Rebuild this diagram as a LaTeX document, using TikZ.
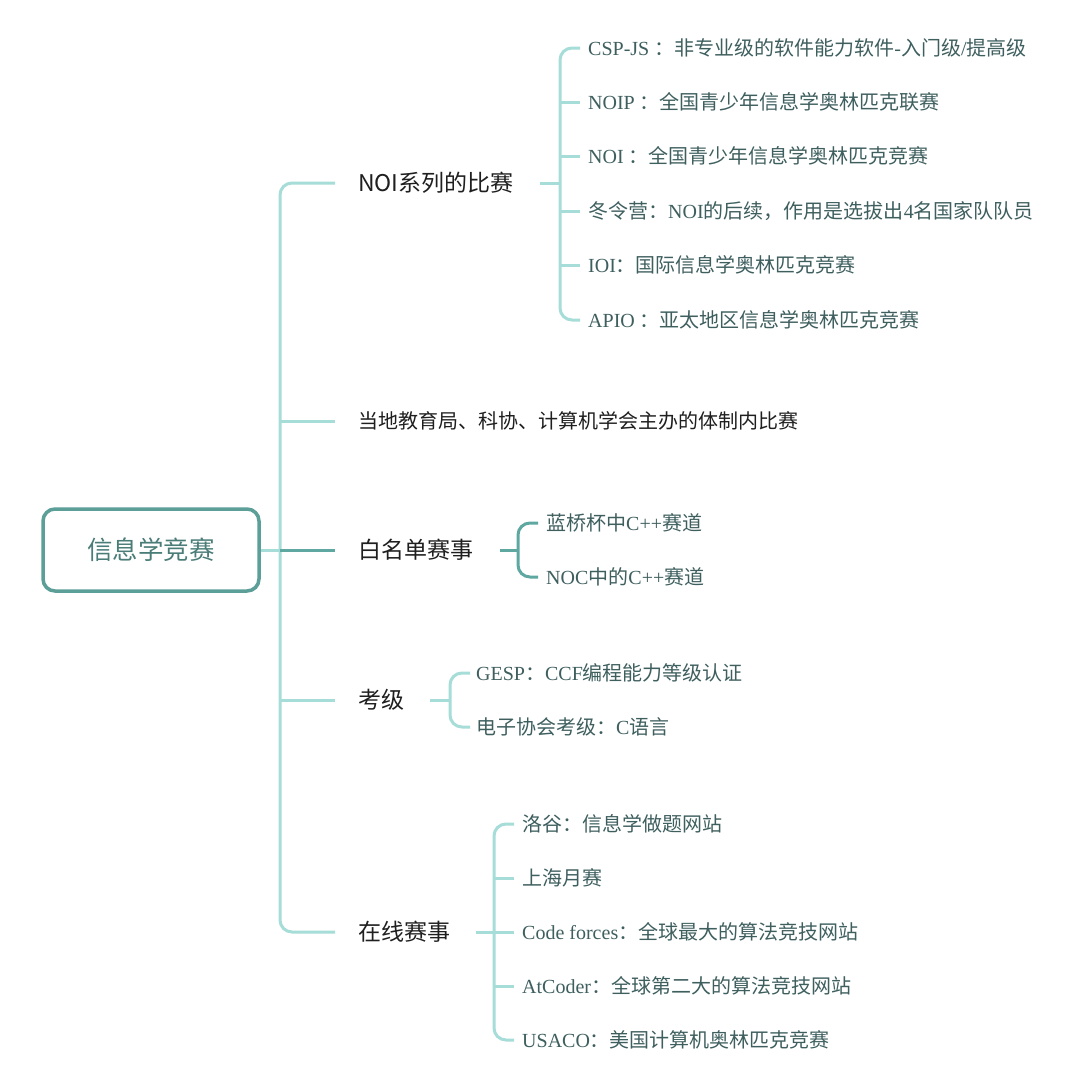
\documentclass[tikz,border=0pt]{standalone}
\usepackage{fontspec}
\setmainfont{Noto Sans CJK SC}
\newfontfamily\latserif{Liberation Serif}
\newcommand{\lt}[1]{{\latserif #1}}
\definecolor{lightline}{HTML}{A6DDD8}
\definecolor{darkline}{HTML}{5FA8A2}
\definecolor{rootbd}{HTML}{5C9E98}
\definecolor{leaftxt}{HTML}{3F5F5F}
\definecolor{rootxt}{HTML}{4A7C78}
\tikzset{
  lline/.style={draw=lightline,line width=3pt,rounded corners=12pt},
  dline/.style={draw=darkline,line width=3pt,rounded corners=12pt},
  branch/.style={anchor=west,inner sep=0pt,font=\fontsize{23}{26}\selectfont,text=black!88},
  leaf/.style={anchor=west,inner sep=0pt,font=\fontsize{20}{23}\selectfont,text=leaftxt},
}
\begin{document}
\begin{tikzpicture}[x=1pt,y=-1pt]
\useasboundingbox (0,0) rectangle (1080,1082);
\fill[white] (0,0) rectangle (1080,1082);
% trunk
\coordinate (t1) at (280,183);
\coordinate (t5) at (280,932);
\draw[lline] (335,183) -- (t1) -- (t5) -- (335,932);
\draw[lline] (280,421) -- (335,421);
\draw[lline] (280,700) -- (335,700);
\draw[dline] (280,550) -- (335,550);
% root
\node[draw=rootbd,line width=3.5pt,rounded corners=12pt,minimum width=216pt,minimum height=82pt,
  font=\fontsize{25.5}{30}\selectfont,text=rootxt] (root) at (151,550) {信息学竞赛};
\draw[lline] (root.east) -- (280,550);
% branches
\node[branch] (b1) at (358,183) {NOI系列的比赛};
\node[branch,font=\fontsize{20}{23}\selectfont] (b2) at (358,421) {当地教育局、科协、计算机学会主办的体制内比赛};
\node[branch] (b3) at (358,550) {白名单赛事};
\node[branch] (b4) at (358,700) {考级};
\node[branch] (b5) at (358,932) {在线赛事};
% NOI leaves
\draw[lline] (540,183) -- (560,183);
\draw[lline] (580,48) -- (560,48) -- (560,320) -- (580,320);
\foreach \y in {102,156,211,265} \draw[lline] (560,\y) -- (580,\y);
\node[leaf] (n1) at (588,48) {\lt{CSP-JS }：非专业级的软件能力软件\lt{-}入门级\lt{/}提高级};
\node[leaf] (n2) at (588,102) {\lt{NOIP }：全国青少年信息学奥林匹克联赛};
\node[leaf] (n3) at (588,156) {\lt{NOI }：全国青少年信息学奥林匹克竞赛};
\node[leaf] (n4) at (588,211) {冬令营：\lt{NOI}的后续，作用是选拔出\lt{4}名国家队队员};
\node[leaf] (n5) at (588,265) {\lt{IOI}：国际信息学奥林匹克竞赛};
\node[leaf] (n6) at (588,320) {\lt{APIO }：亚太地区信息学奥林匹克竞赛};
% whitelist
\draw[dline] (500,550) -- (518,550);
\draw[dline] (538,523) -- (518,523) -- (518,577) -- (538,577);
\node[leaf] (w1) at (546,523) {蓝桥杯中\lt{C++}赛道};
\node[leaf] (w2) at (546,577) {\lt{NOC}中的\lt{C++}赛道};
% exam
\draw[lline] (430,700) -- (450,700);
\draw[lline] (470,673) -- (450,673) -- (450,727) -- (470,727);
\node[leaf] (e1) at (476,673) {\lt{GESP}：\lt{CCF}编程能力等级认证};
\node[leaf] (e2) at (476,727) {电子协会考级：\lt{C}语言};
% online
\draw[lline] (476,932) -- (514,932);
\draw[lline] (514,824) -- (494,824) -- (494,1040) -- (514,1040);
\foreach \y in {878,986} \draw[lline] (494,\y) -- (514,\y);
\node[leaf] (o1) at (522,824) {洛谷：信息学做题网站};
\node[leaf] (o2) at (522,878) {上海月赛};
\node[leaf] (o3) at (522,932) {\lt{Code forces}：全球最大的算法竞技网站};
\node[leaf] (o4) at (522,986) {\lt{AtCoder}：全球第二大的算法竞技网站};
\node[leaf] (o5) at (522,1040) {\lt{USACO}：美国计算机奥林匹克竞赛};
\end{tikzpicture}
\end{document}
